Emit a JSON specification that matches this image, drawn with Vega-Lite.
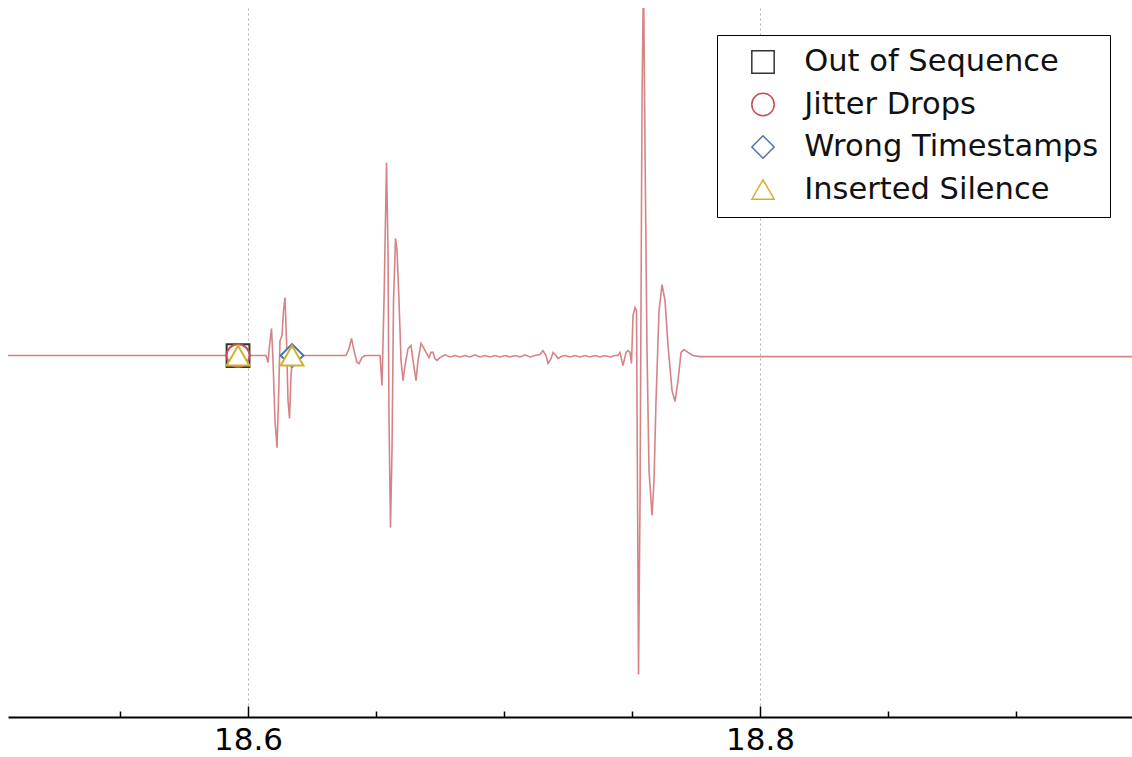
{
  "$schema": "https://vega.github.io/schema/vega-lite/v6.json",
  "width": 1124,
  "height": 709,
  "autosize": "none",
  "padding": {"left": 8, "top": 8, "right": 0, "bottom": 40},
  "background": "white",
  "config": {"view": {"stroke": null}, "font": "DejaVu Sans"},
  "datasets": {
    "signal": [
      {"t": 18.5, "amp": 0}, {"t": 18.60703, "amp": 0}, {"t": 18.60781, "amp": -0.02}, {"t": 18.6084, "amp": 0.029},
      {"t": 18.60918, "amp": 0.078}, {"t": 18.60977, "amp": -0.014}, {"t": 18.61055, "amp": -0.187}, {"t": 18.61133, "amp": -0.265},
      {"t": 18.61191, "amp": -0.129}, {"t": 18.6125, "amp": 0.043}, {"t": 18.61328, "amp": 0.058}, {"t": 18.61387, "amp": 0.129},
      {"t": 18.61445, "amp": 0.167}, {"t": 18.61504, "amp": 0.043}, {"t": 18.61563, "amp": -0.129}, {"t": 18.61621, "amp": -0.181},
      {"t": 18.6168, "amp": -0.058}, {"t": 18.61738, "amp": 0}, {"t": 18.61875, "amp": 0},
      {"t": 18.63828, "amp": 0}, {"t": 18.63945, "amp": 0.02}, {"t": 18.64043, "amp": 0.049}, {"t": 18.64141, "amp": 0.014},
      {"t": 18.64258, "amp": -0.02}, {"t": 18.64336, "amp": -0.023}, {"t": 18.64453, "amp": -0.006}, {"t": 18.6457, "amp": 0},
      {"t": 18.65156, "amp": 0}, {"t": 18.65234, "amp": -0.086}, {"t": 18.65313, "amp": 0.158}, {"t": 18.6541, "amp": 0.555},
      {"t": 18.65469, "amp": 0.302}, {"t": 18.65508, "amp": -0.187}, {"t": 18.65566, "amp": -0.495}, {"t": 18.65625, "amp": -0.273},
      {"t": 18.65684, "amp": 0.158}, {"t": 18.65762, "amp": 0.337}, {"t": 18.6582, "amp": 0.302}, {"t": 18.65898, "amp": 0.158},
      {"t": 18.65977, "amp": -0.014}, {"t": 18.66055, "amp": -0.072}, {"t": 18.66133, "amp": -0.029}, {"t": 18.6625, "amp": 0.02},
      {"t": 18.66367, "amp": 0.029}, {"t": 18.66445, "amp": -0.014}, {"t": 18.66563, "amp": -0.072}, {"t": 18.66641, "amp": -0.014},
      {"t": 18.66758, "amp": 0.035}, {"t": 18.66875, "amp": 0.02}, {"t": 18.66953, "amp": 0.009}, {"t": 18.6707, "amp": -0.006},
      {"t": 18.67148, "amp": 0.009}, {"t": 18.67227, "amp": 0.009}, {"t": 18.67305, "amp": -0.009}, {"t": 18.67383, "amp": -0.014},
      {"t": 18.675, "amp": -0.006}, {"t": 18.67695, "amp": 0.002}, {"t": 18.67891, "amp": -0.004}, {"t": 18.68086, "amp": 0},
      {"t": 18.68281, "amp": -0.004}, {"t": 18.68477, "amp": 0}, {"t": 18.68672, "amp": -0.004}, {"t": 18.68867, "amp": 0.002},
      {"t": 18.69063, "amp": -0.004}, {"t": 18.69258, "amp": 0}, {"t": 18.69453, "amp": -0.004}, {"t": 18.69648, "amp": 0},
      {"t": 18.69844, "amp": -0.004}, {"t": 18.70039, "amp": 0}, {"t": 18.70234, "amp": -0.004}, {"t": 18.7043, "amp": 0},
      {"t": 18.70625, "amp": -0.004}, {"t": 18.7082, "amp": 0.002}, {"t": 18.71016, "amp": -0.004}, {"t": 18.71211, "amp": 0},
      {"t": 18.71406, "amp": 0.003}, {"t": 18.71523, "amp": 0.014}, {"t": 18.71641, "amp": 0}, {"t": 18.71719, "amp": -0.023},
      {"t": 18.71836, "amp": -0.009}, {"t": 18.71914, "amp": 0.009}, {"t": 18.72031, "amp": 0}, {"t": 18.72109, "amp": -0.009},
      {"t": 18.72227, "amp": -0.003}, {"t": 18.72383, "amp": 0}, {"t": 18.72578, "amp": -0.004}, {"t": 18.72773, "amp": 0},
      {"t": 18.72969, "amp": -0.004}, {"t": 18.73164, "amp": 0}, {"t": 18.73359, "amp": -0.004}, {"t": 18.73555, "amp": 0},
      {"t": 18.7375, "amp": -0.004}, {"t": 18.73945, "amp": 0}, {"t": 18.74141, "amp": -0.004}, {"t": 18.74336, "amp": 0},
      {"t": 18.74453, "amp": 0}, {"t": 18.74531, "amp": 0.009}, {"t": 18.74648, "amp": -0.029}, {"t": 18.74766, "amp": 0.009},
      {"t": 18.74844, "amp": 0.014}, {"t": 18.74922, "amp": 0.009}, {"t": 18.7498, "amp": -0.023}, {"t": 18.75039, "amp": 0.115},
      {"t": 18.75117, "amp": 0.138}, {"t": 18.75176, "amp": 0.129}, {"t": 18.75254, "amp": -0.918}, {"t": 18.75313, "amp": -0.417},
      {"t": 18.75391, "amp": 0.734}, {"t": 18.75449, "amp": 1.1}, {"t": 18.75508, "amp": 0.59}, {"t": 18.75586, "amp": 0.014},
      {"t": 18.75664, "amp": -0.331}, {"t": 18.75781, "amp": -0.46}, {"t": 18.75859, "amp": -0.36}, {"t": 18.75938, "amp": -0.129},
      {"t": 18.76055, "amp": 0.129}, {"t": 18.76172, "amp": 0.204}, {"t": 18.76289, "amp": 0.158}, {"t": 18.76406, "amp": 0.029},
      {"t": 18.76563, "amp": -0.101}, {"t": 18.7668, "amp": -0.132}, {"t": 18.76797, "amp": -0.072}, {"t": 18.76914, "amp": 0.009},
      {"t": 18.77031, "amp": 0.017}, {"t": 18.77188, "amp": 0.009}, {"t": 18.77383, "amp": 0}, {"t": 18.77656, "amp": -0.003},
      {"t": 18.78047, "amp": -0.003}, {"t": 18.95, "amp": -0.003}
    ],
    "events": [
      {"t": 18.5961, "amp": 0, "event": "Out of Sequence"},
      {"t": 18.5961, "amp": 0, "event": "Jitter Drops"},
      {"t": 18.5961, "amp": 0, "event": "Inserted Silence"},
      {"t": 18.6172, "amp": 0, "event": "Wrong Timestamps"},
      {"t": 18.6172, "amp": 0, "event": "Inserted Silence"}
    ]
  },
  "layer": [
    {
      "data": {"name": "signal"},
      "mark": {"type": "line", "color": "#c44e52", "opacity": 0.7, "strokeWidth": 1.6, "clip": true},
      "encoding": {
        "x": {
          "field": "t", "type": "quantitative",
          "scale": {"domain": [18.50625, 18.9453], "nice": false, "zero": false},
          "axis": {
            "title": null,
            "values": [18.55, 18.6, 18.65, 18.7, 18.75, 18.8, 18.85, 18.9],
            "labelExpr": "(abs(datum.value-18.6)<0.001 || abs(datum.value-18.8)<0.001) ? format(datum.value, '.1f') : ''",
            "tickSize": {"condition": {"test": "abs(datum.value-18.6)<0.001 || abs(datum.value-18.8)<0.001", "value": -11}, "value": -6},
            "tickColor": "black",
            "tickWidth": 1.5,
            "domainColor": "black",
            "domainWidth": 2,
            "grid": true,
            "gridColor": "#b0b0b0",
            "gridDash": [2, 3],
            "gridWidth": 1,
            "gridOpacity": {"condition": {"test": "abs(datum.value-18.6)<0.001 || abs(datum.value-18.8)<0.001", "value": 1}, "value": 0},
            "labelFont": "DejaVu Sans",
            "labelFontSize": 31,
            "labelColor": "black",
            "labelPadding": 19,
            "labelFlush": false,
            "labelOverlap": false
          }
        },
        "y": {
          "field": "amp", "type": "quantitative",
          "scale": {"domain": [-1.04, 1.0], "nice": false, "zero": false},
          "axis": null
        }
      }
    },
    {
      "data": {"name": "events"},
      "mark": {"type": "point", "fill": "white", "fillOpacity": 1, "strokeWidth": 2, "size": 520, "opacity": 1},
      "encoding": {
        "x": {"field": "t", "type": "quantitative"},
        "y": {"field": "amp", "type": "quantitative"},
        "shape": {
          "field": "event", "type": "nominal",
          "scale": {"domain": ["Out of Sequence", "Jitter Drops", "Wrong Timestamps", "Inserted Silence"], "range": ["square", "circle", "diamond", "triangle-up"]},
          "legend": {
            "title": null, "orient": "none", "legendX": 709, "legendY": 27,
            "labelFont": "DejaVu Sans", "labelFontSize": 30.5, "labelColor": "#111111", "labelLimit": 500,
            "symbolSize": 500, "symbolStrokeWidth": 1.5, "symbolFillColor": "white",
            "padding": 11.75, "rowPadding": 11.5, "labelOffset": 26, "symbolOffset": 19,
            "strokeColor": "black", "fillColor": "white",
            "encode": {"legend": {"update": {"strokeWidth": {"value": 2}}}}
          }
        },
        "stroke": {
          "field": "event", "type": "nominal",
          "scale": {"domain": ["Out of Sequence", "Jitter Drops", "Wrong Timestamps", "Inserted Silence"], "range": ["#333333", "#c44e52", "#4c72b0", "#d4b030"]},
          "legend": {
            "title": null, "orient": "none", "legendX": 709, "legendY": 27,
            "labelFont": "DejaVu Sans", "labelFontSize": 30.5, "labelColor": "#111111", "labelLimit": 500,
            "symbolSize": 500, "symbolStrokeWidth": 1.5, "symbolFillColor": "white",
            "padding": 11.75, "rowPadding": 11.5, "labelOffset": 26, "symbolOffset": 19,
            "strokeColor": "black", "fillColor": "white",
            "encode": {"legend": {"update": {"strokeWidth": {"value": 2}}}}
          }
        }
      }
    }
  ]
}
